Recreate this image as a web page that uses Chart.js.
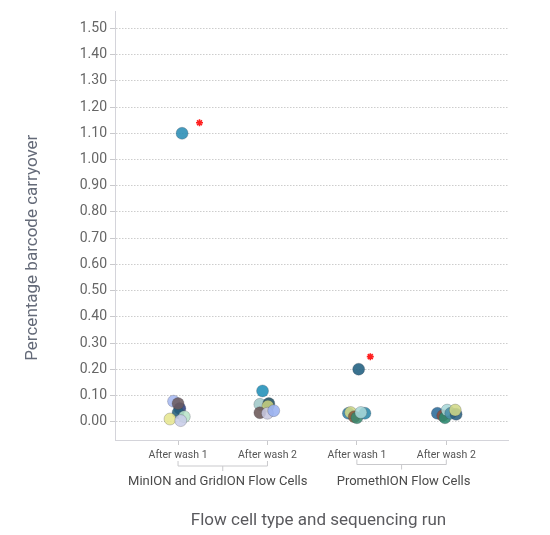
<!DOCTYPE html>
<html>
<head>
<meta charset="utf-8">
<script src="https://cdn.jsdelivr.net/npm/chart.js@4.4.1/dist/chart.umd.min.js"></script>
<style>
  html, body { margin: 0; padding: 0; background: #fff; }
  #wrap { width: 550px; height: 535px; }
</style>
</head>
<body>
<div id="wrap"><canvas id="c" width="550" height="535"></canvas></div>
<script>
// ---- data ----
const categories = ['After wash 1', 'After wash 2', 'After wash 1', 'After wash 2'];
const groups = ['MinION and GridION Flow Cells', 'PromethION Flow Cells'];
const yTicks = [0, 0.1, 0.2, 0.3, 0.4, 0.5, 0.6, 0.7, 0.8, 0.9, 1.0, 1.1, 1.2, 1.3, 1.4, 1.5];
const yTitle = 'Percentage barcode carryover';
const xTitle = 'Flow cell type and sequencing run';

// jitter offsets (category units), values (%), colours
const minW1Jitter = [-0.05, 0.02, 0.0, 0.0, 0.07, -0.09, 0.03, 0.045];
const minW1Values = [0.078, 0.050, 0.034, 0.069, 0.019, 0.010, 0.004, 1.10];
const minW1Colors = ['#a6b8f0', '#2c3f80', '#24607a', '#6b5b60', '#b8e2c8', '#e6e690', '#c8cde8', '#2a8db5'];

const minW2Jitter = [-0.055, -0.085, 0.015, 0.005, -0.085, 0.0, 0.07];
const minW2Values = [0.117, 0.066, 0.069, 0.059, 0.034, 0.032, 0.042];
const minW2Colors = ['#2090b8', '#a0c8c8', '#1f5060', '#c8d080', '#6b5858', '#c8c8e0', '#98b0f0'];

const proW1Jitter = [0.02, -0.095, -0.07, -0.03, 0.0, 0.09, 0.045];
const proW1Values = [0.20, 0.032, 0.035, 0.019, 0.015, 0.032, 0.035];
const proW1Colors = ['#1f5f80', '#3080a8', '#d0d888', '#8a5a3a', '#3a8a70', '#2a88a8', '#a8d8d8'];

const proW2Jitter = [-0.10, -0.04, -0.015, 0.01, 0.05, 0.11, 0.10];
const proW2Values = [0.032, 0.023, 0.015, 0.044, 0.032, 0.028, 0.044];
const proW2Colors = ['#2a6a98', '#8a5040', '#2a8a70', '#a8d8d8', '#4a90a8', '#2a6080', '#d0d888'];

// significance markers (category position, value)
const starPos = [0.24, 2.15];
const starValues = [1.14, 0.248];

// ---- build ----
const FONT = 'Roboto, "Liberation Sans", Arial, sans-serif';
function hexA(h, a) {
  const n = parseInt(h.slice(1), 16);
  return `rgba(${(n >> 16) & 255},${(n >> 8) & 255},${n & 255},${a})`;
}
function makeSet(idx, jit, vals, cols) {
  return {
    type: 'scatter',
    data: vals.map((v, i) => ({ x: idx + jit[i], y: v })),
    backgroundColor: cols.map(c => hexA(c, 0.88)),
    borderColor: 'rgba(60,60,70,0.25)',
    borderWidth: 1,
    pointRadius: 6,
    pointHoverRadius: 6
  };
}

const datasets = [
  makeSet(0, minW1Jitter, minW1Values, minW1Colors),
  makeSet(1, minW2Jitter, minW2Values, minW2Colors),
  makeSet(2, proW1Jitter, proW1Values, proW1Colors),
  makeSet(3, proW2Jitter, proW2Values, proW2Colors),
  {
    type: 'scatter',
    data: starValues.map((v, i) => ({ x: starPos[i], y: v })),
    pointStyle: 'star',
    pointRadius: 3.5,
    borderColor: '#ff2020',
    backgroundColor: '#ff2020',
    borderWidth: 1.6
  }
];

const extras = {
  id: 'extras',
  afterDraw(chart) {
    const ctx = chart.ctx;
    const xs = chart.scales.x;
    const base = xs.top;
    ctx.save();
    // brackets + group labels
    groups.forEach((g, gi) => {
      const x0 = xs.getPixelForValue(gi * 2);
      const x1 = xs.getPixelForValue(gi * 2 + 1);
      const by = base + 26 - gi * 1.5;
      ctx.strokeStyle = '#c9c9cc';
      ctx.lineWidth = 1;
      ctx.beginPath();
      ctx.moveTo(x0, by - 5); ctx.lineTo(x0, by);
      ctx.lineTo(x1, by); ctx.lineTo(x1, by - 5);
      ctx.moveTo((x0 + x1) / 2, by); ctx.lineTo((x0 + x1) / 2, by + 5);
      ctx.stroke();
      ctx.fillStyle = '#4a4a4a';
      ctx.font = '13px ' + FONT;
      ctx.textAlign = 'center';
      ctx.textBaseline = 'middle';
      ctx.fillText(g, (x0 + x1) / 2 + (gi === 0 ? -5 : 2), base + 42);
    });
    // x title
    ctx.fillStyle = '#5a5a5e';
    ctx.font = '17px ' + FONT;
    ctx.textAlign = 'center';
    ctx.textBaseline = 'middle';
    ctx.fillText(xTitle, (chart.chartArea.left + chart.chartArea.right) / 2 + 7, base + 81);
    // y title
    ctx.translate(33, (chart.chartArea.top + chart.chartArea.bottom) / 2 + 22);
    ctx.rotate(-Math.PI / 2);
    ctx.fillStyle = '#646a78';
    ctx.fillText(yTitle, 0, 0);
    ctx.restore();
  }
};

new Chart(document.getElementById('c'), {
  type: 'scatter',
  data: { datasets },
  options: {
    responsive: false,
    animation: false,
    devicePixelRatio: 1,
    layout: { padding: { top: 7, right: 42, bottom: 0, left: 0 } },
    plugins: { legend: { display: false }, tooltip: { enabled: false } },
    scales: {
      x: {
        type: 'linear',
        min: -0.705,
        max: 3.69,
        afterBuildTicks: s => { s.ticks = categories.map((c, i) => ({ value: i })); },
        afterFit: s => { s.height = 95; },
        ticks: {
          callback: (v) => categories[v],
          color: '#555',
          font: { family: FONT, size: 10.5 },
          padding: 4,
          maxRotation: 0,
          autoSkip: false
        },
        grid: { drawOnChartArea: false, drawTicks: true, tickLength: 5, tickColor: '#c9c9cc' },
        border: { display: true, color: '#d4d4da', width: 1 }
      },
      y: {
        type: 'linear',
        min: -0.07,
        max: 1.565,
        afterBuildTicks: s => { s.ticks = yTicks.map(v => ({ value: v })); },
        afterFit: s => { s.width = 115; },
        ticks: {
          callback: v => Number(v).toFixed(2),
          color: '#666',
          font: { family: FONT, size: 14 },
          padding: 3,
          autoSkip: false
        },
        grid: { color: '#cdcdcd', lineWidth: 1, drawTicks: true, tickLength: 5, tickColor: '#c9c9cc' },
        border: { display: true, color: '#d4d4da', width: 1, dash: [1.5, 1.5] }
      }
    }
  },
  plugins: [extras]
});
</script>
</body>
</html>
